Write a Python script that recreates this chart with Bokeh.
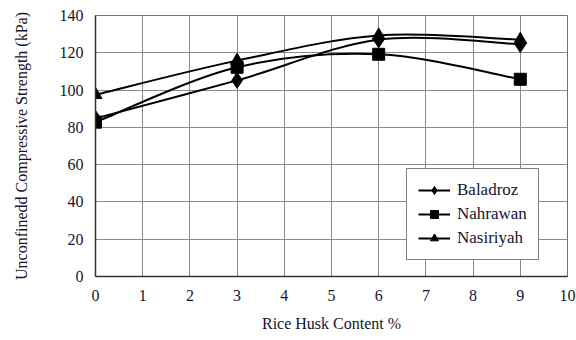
from bokeh.plotting import figure
from bokeh.models import ColumnDataSource, Legend, LegendItem, FixedTicker
from bokeh.embed import file_html
from bokeh.resources import INLINE

rice_husk = [0, 3, 6, 9]
baladroz = [84.8, 105.2, 127.0, 124.5]
nahrawan = [82.8, 112.2, 119.2, 105.8]
nasiriyah = [97.5, 115.8, 129.3, 127.0]

x_ticks = list(range(0, 11))
y_ticks = list(range(0, 141, 20))

FONT = "Liberation Serif"
TXT = "#14142e"

p = figure(width=576, height=340, x_range=(0, 10), y_range=(0, 140),
           output_backend="svg", toolbar_location=None,
           min_border_left=95, min_border_right=9, min_border_top=15,
           min_border_bottom=64)
p.background_fill_color = "white"
p.border_fill_color = "white"
p.outline_line_color = "#707070"
p.outline_line_width = 1

for ax in (p.xaxis, p.yaxis):
    ax.axis_line_color = "#303030"
    ax.axis_line_width = 1.5
    ax.major_tick_out = 0
    ax.major_tick_in = 0
    ax.minor_tick_out = 0
    ax.minor_tick_in = 0
    ax.major_label_text_font = FONT
    ax.major_label_text_font_size = "16px"
    ax.major_label_text_font_style = "normal"
    ax.major_label_text_color = TXT
    ax.axis_label_text_font = FONT
    ax.axis_label_text_font_size = "16px"
    ax.axis_label_text_font_style = "normal"
    ax.axis_label_text_color = TXT

p.xaxis.ticker = FixedTicker(ticks=x_ticks)
p.yaxis.ticker = FixedTicker(ticks=y_ticks)
p.xaxis.major_label_standoff = 13
p.yaxis.major_label_standoff = 12
p.xaxis.axis_label = "Rice Husk Content %"
p.yaxis.axis_label = "Unconfinedd Compressive Strength (kPa)"
p.xaxis.axis_label_standoff = 11
p.yaxis.axis_label_standoff = 27

for g in (p.xgrid, p.ygrid):
    g.grid_line_color = "#8a8a8a"
    g.grid_line_width = 1
p.xgrid.ticker = FixedTicker(ticks=x_ticks)
p.ygrid.ticker = FixedTicker(ticks=y_ticks)


def smooth_source(xs, ys):
    n = len(xs)
    d = dict(x0=[], y0=[], x1=[], y1=[], cx0=[], cy0=[], cx1=[], cy1=[])
    for i in range(n - 1):
        xm, ym = xs[max(i - 1, 0)], ys[max(i - 1, 0)]
        xa, ya = xs[i], ys[i]
        xb, yb = xs[i + 1], ys[i + 1]
        xn, yn = xs[min(i + 2, n - 1)], ys[min(i + 2, n - 1)]
        d["x0"].append(xa); d["y0"].append(ya)
        d["x1"].append(xb); d["y1"].append(yb)
        d["cx0"].append(xa + (xb - xm) / 6); d["cy0"].append(ya + (yb - ym) / 6)
        d["cx1"].append(xb - (xn - xa) / 6); d["cy1"].append(yb - (yn - ya) / 6)
    return ColumnDataSource(d)


series = [
    ("Baladroz", baladroz, "diamond", 16),
    ("Nahrawan", nahrawan, "square", 12),
    ("Nasiriyah", nasiriyah, "triangle", 13),
]

items = []
for name, vals, marker, size in series:
    curve = p.bezier(x0="x0", y0="y0", x1="x1", y1="y1", cx0="cx0", cy0="cy0",
                     cx1="cx1", cy1="cy1", source=smooth_source(rice_husk, vals),
                     line_color="black", line_width=2)
    pts = p.scatter(rice_husk, vals, marker=marker, size=size,
                    fill_color="black", line_color="black")
    items.append(LegendItem(label=name, renderers=[curve, pts]))

legend = Legend(items=items, location=(311, 16))
legend.label_text_font = FONT
legend.label_text_font_style = "normal"
legend.label_text_font_size = "17px"
legend.label_text_color = TXT
legend.border_line_color = "black"
legend.border_line_width = 1.5
legend.background_fill_color = "white"
legend.background_fill_alpha = 1
legend.padding = 11
legend.spacing = 4
legend.label_height = 20
legend.glyph_height = 20
legend.glyph_width = 32
legend.label_standoff = 7
legend.margin = 0
p.add_layout(legend, "center")

open("out.html", "w").write(file_html(p, INLINE))
